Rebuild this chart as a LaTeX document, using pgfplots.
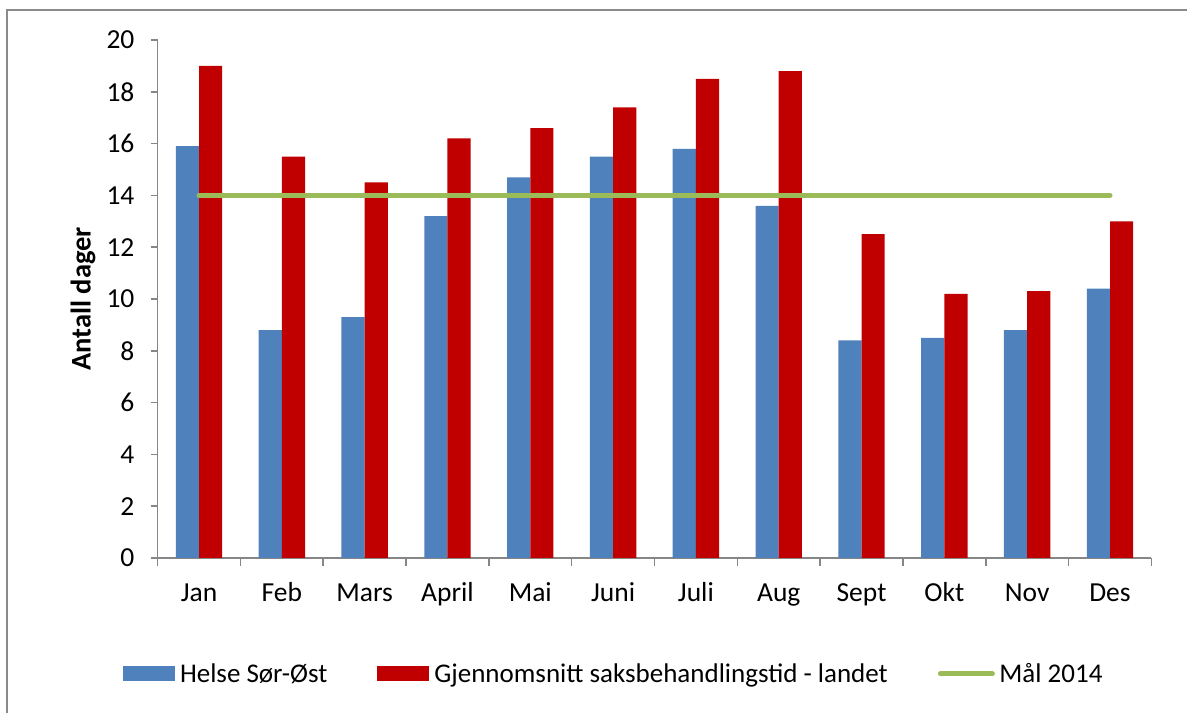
\documentclass[border=0pt]{standalone}
\usepackage{fontspec}
\setmainfont{Carlito}
\usepackage{pgfplots}
\pgfplotsset{compat=1.18}
\definecolor{hblue}{HTML}{4F81BD}
\definecolor{hred}{HTML}{C00000}
\definecolor{hgreen}{HTML}{9BBB59}
\definecolor{axgray}{HTML}{868686}
\definecolor{bordergray}{HTML}{8A8A8A}
\newcommand{\chartfont}{\fontsize{27.5bp}{33bp}\selectfont}
\newcommand{\legfont}{\fontsize{27bp}{32bp}\selectfont}
\begin{document}
\begin{tikzpicture}
\path[use as bounding box] (0,0) rectangle (1187bp,713bp);
\draw[bordergray, line width=2bp] (6.5bp,0) -- (6.5bp,702.5bp) -- (1187bp,702.5bp);
\begin{axis}[
  at={(157.6bp,155bp)}, anchor=south west,
  scale only axis, width=993.8bp, height=518bp,
  xmin=-0.5, xmax=11.5, ymin=0, ymax=20,
  axis lines*=left,
  axis line style={axgray, line width=1.5bp},
  xtick={0,1,2,3,4,5,6,7,8,9,10,11},
  xticklabels={Jan,Feb,Mars,April,Mai,Juni,Juli,Aug,Sept,Okt,Nov,Des},
  minor xtick={-0.5,0.5,1.5,2.5,3.5,4.5,5.5,6.5,7.5,8.5,9.5,10.5,11.5},
  major x tick style={draw=none},
  minor x tick style={axgray, line width=1.5bp},
  minor tick length=8bp,
  ytick={0,2,4,6,8,10,12,14,16,18,20},
  major y tick style={axgray, line width=1.5bp},
  major tick length=7bp,
  tick align=outside,
  /pgf/number format/assume math mode=true,
  ticklabel style={font=\chartfont, inner sep=0pt},
  xticklabel style={anchor=base, yshift=-36bp},
  yticklabel style={anchor=east, xshift=-16bp},
  ylabel={Antall dager},
  ylabel style={font=\fontsize{28.5bp}{34bp}\selectfont\bfseries, at={(axis description cs:-0.0751,0.5)}, anchor=center},
  legend columns=3,
  legend cell align=left,
  legend style={at={(axis description cs:-0.0348,-0.2239)}, anchor=west,
    draw=none, fill=none, inner sep=0pt, outer sep=0pt, font=\legfont,
    nodes={inner sep=0pt},
    /tikz/every even column/.append style={column sep=50bp}},
]
\addplot[ybar, fill=hblue, draw=none, bar width=0.28, bar shift=-0.14,
  legend image code/.code={\fill[hblue] (0bp,-7.5bp) rectangle (52bp,7.5bp); \path (57bp,0bp);}]
  coordinates {(0,15.9)(1,8.8)(2,9.3)(3,13.2)(4,14.7)(5,15.5)(6,15.8)(7,13.6)(8,8.4)(9,8.5)(10,8.8)(11,10.4)};
\addlegendentry{Helse Sør-Øst}
\addplot[ybar, fill=hred, draw=none, bar width=0.28, bar shift=0.14,
  legend image code/.code={\fill[hred] (0bp,-7.5bp) rectangle (52bp,7.5bp); \path (57bp,0bp);}]
  coordinates {(0,19.0)(1,15.5)(2,14.5)(3,16.2)(4,16.6)(5,17.4)(6,18.5)(7,18.8)(8,12.5)(9,10.2)(10,10.3)(11,13.0)};
\addlegendentry{Gjennomsnitt saksbehandlingstid - landet}
\addplot[hgreen, line width=5bp, line cap=round, mark=none,
  legend image code/.code={\draw[hgreen, line width=5bp, line cap=round] (2.5bp,0bp) -- (54.5bp,0bp); \path (59bp,0bp);}]
  coordinates {(0,14)(1,14)(2,14)(3,14)(4,14)(5,14)(6,14)(7,14)(8,14)(9,14)(10,14)(11,14)};
\addlegendentry{Mål 2014}
\end{axis}
\end{tikzpicture}
\end{document}
